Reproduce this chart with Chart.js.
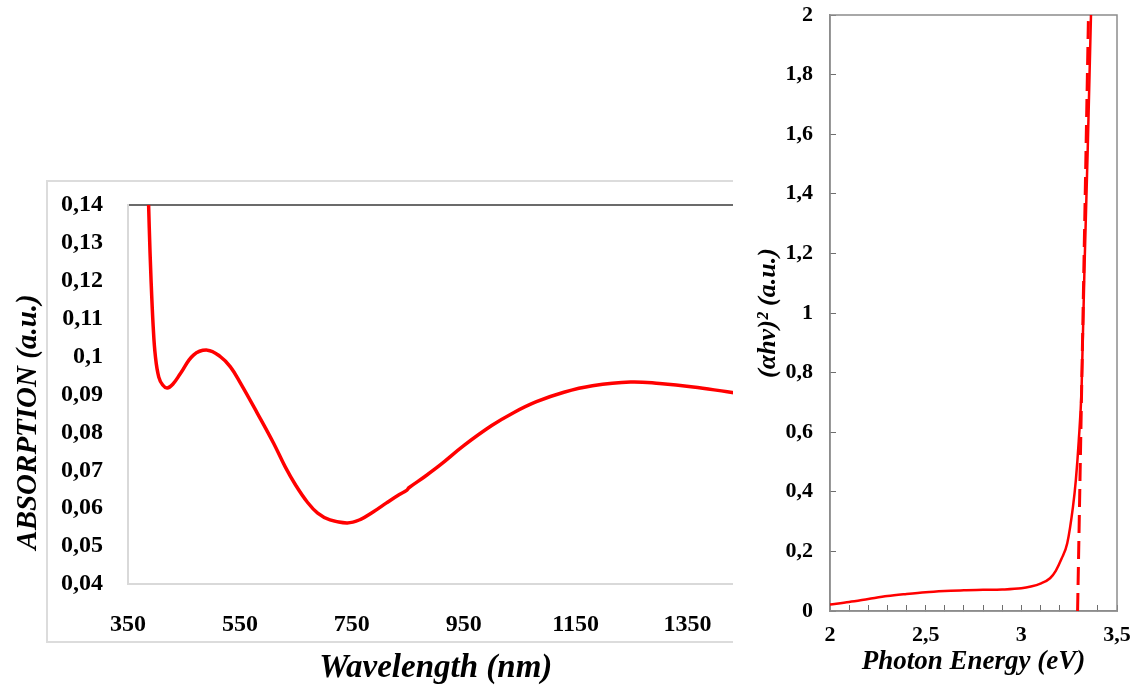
<!DOCTYPE html>
<html>
<head>
<meta charset="utf-8">
<script src="https://cdn.jsdelivr.net/npm/chart.js@4.4.0/dist/chart.umd.min.js"></script>
<style>
  body { margin: 0; background: #fff; }
  #wrap { position: relative; width: 1137px; height: 693px; overflow: hidden; }
  #absChart { position: absolute; left: 0; top: 0; }
  #taucChart { position: absolute; left: 733px; top: 0; background: #fff; }
</style>
</head>
<body>
<div id="wrap">
  <canvas id="absChart" width="800" height="693"></canvas>
  <canvas id="taucChart" width="404" height="693"></canvas>
</div>
<script>
// left panel: absorption spectrum
const wavelength = [385, 388, 391, 395, 399, 405, 412, 420, 430, 444, 467, 492, 515, 533, 551, 581, 610, 631, 650, 670, 689, 711, 742, 765, 788, 812, 835, 848, 852, 880, 908, 950, 1000, 1039, 1080, 1129, 1180, 1248, 1300, 1360, 1421, 1450]
const absorption = [0.150, 0.134, 0.121, 0.108, 0.1000, 0.0946, 0.0925, 0.0917, 0.0927, 0.0956, 0.1004, 0.1017, 0.1000, 0.0973, 0.0930, 0.0851, 0.0772, 0.0709, 0.0660, 0.0617, 0.0587, 0.0569, 0.0561, 0.0570, 0.0590, 0.0614, 0.0636, 0.0647, 0.0654, 0.0683, 0.0714, 0.0765, 0.0818, 0.0852, 0.0881, 0.0906, 0.0923, 0.0933, 0.0929, 0.0920, 0.0907, 0.0901]
const absXTicks = [350, 550, 750, 950, 1150, 1350]
const absYTicks = [0.04, 0.05, 0.06, 0.07, 0.08, 0.09, 0.1, 0.11, 0.12, 0.13, 0.14]

// right panel: Tauc plot
const energy = [2.0, 2.1, 2.2, 2.3, 2.4, 2.5, 2.6, 2.7, 2.8, 2.9, 3.0, 3.05, 3.1, 3.15, 3.18, 3.21, 3.24, 3.27, 3.285, 3.30, 3.315, 3.33, 3.347, 3.364, 3.37]
const tauc = [0.022, 0.030, 0.040, 0.050, 0.057, 0.063, 0.067, 0.070, 0.071, 0.072, 0.076, 0.082, 0.092, 0.110, 0.135, 0.175, 0.227, 0.350, 0.440, 0.570, 0.750, 1.150, 1.550, 2.000, 2.150]
const tangentE = [3.294, 3.351]
const tangentY = [0, 2]
const taucXTicks = [2, 2.1, 2.2, 2.3, 2.4, 2.5, 2.6, 2.7, 2.8, 2.9, 3, 3.1, 3.2, 3.3, 3.4, 3.5]
const taucXLabels = [2, 2.5, 3, 3.5]
const taucYTicks = [0, 0.2, 0.4, 0.6, 0.8, 1, 1.2, 1.4, 1.6, 1.8, 2]

const serif = "'Liberation Serif', 'Times New Roman', serif"
const comma = v => String(v).replace('.', ',')

// keep the plot areas where they sit in the figure
const noEdgePadding = (axis) => {
  axis.paddingLeft = 0
  axis.paddingRight = 0
  axis.paddingTop = 0
  axis.paddingBottom = 0
}

const absFrame = {
  id: 'absFrame',
  beforeDraw: (chart) => {
    const c = chart.ctx
    c.save()
    c.fillStyle = '#fff'
    c.fillRect(0, 0, chart.width, chart.height)
    c.strokeStyle = '#dcdcdc'
    c.lineWidth = 2
    c.strokeRect(47, 181, 780, 461)
    c.restore()
  },
  afterDraw: (chart) => {
    const c = chart.ctx
    c.save()
    c.translate(29, 422)
    c.rotate(-Math.PI / 2)
    c.font = "italic bold 29px " + serif
    c.fillStyle = '#000'
    c.textAlign = 'center'
    c.textBaseline = 'middle'
    c.fillText('ABSORPTION (a.u.)', 0, 0)
    c.restore()
  }
}

new Chart(document.getElementById('absChart'), {
  type: 'line',
  data: {
    datasets: [{
      data: wavelength.map((x, i) => ({ x, y: absorption[i] })),
      borderColor: '#ff0000',
      borderWidth: 3.5,
      pointRadius: 0,
      tension: 0.4
    }]
  },
  options: {
    responsive: false,
    animation: false,
    layout: { padding: { top: 205, right: 56.5, left: 0, bottom: 0 } },
    plugins: { legend: { display: false }, tooltip: { enabled: false } },
    scales: {
      x: {
        type: 'linear',
        min: 350,
        max: 1450,
        afterBuildTicks: (axis) => { axis.ticks = absXTicks.map(v => ({ value: v })) },
        afterFit: (axis) => { axis.height = 109; noEdgePadding(axis) },
        grid: { display: false },
        border: { display: true, color: '#d9d9d9', width: 2 },
        ticks: {
          autoSkip: false, maxRotation: 0, padding: 18, color: '#000',
          font: { family: serif, size: 24, weight: 'bold' },
          callback: (v) => comma(v)
        },
        title: {
          display: true,
          text: 'Wavelength (nm)',
          color: '#000',
          font: { family: serif, size: 33, weight: 'bold', style: 'italic' },
          padding: { top: 0, bottom: 5 }
        }
      },
      y: {
        min: 0.04,
        max: 0.14,
        afterBuildTicks: (axis) => { axis.ticks = absYTicks.map(v => ({ value: v })) },
        afterFit: (axis) => { axis.width = 128; noEdgePadding(axis) },
        grid: {
          drawTicks: false,
          lineWidth: 2,
          color: (ctx) => ctx.tick && ctx.tick.value === 0.14 ? '#6b6b6b' : 'rgba(0,0,0,0)'
        },
        border: { display: true, color: '#d9d9d9', width: 2 },
        ticks: {
          autoSkip: false, padding: 25, color: '#000',
          font: { family: serif, size: 24, weight: 'bold' },
          callback: (v) => comma(v)
        }
      }
    }
  },
  plugins: [absFrame]
})

const taucFrame = {
  id: 'taucFrame',
  beforeDatasetsDraw: (chart) => {
    const a = chart.chartArea
    const c = chart.ctx
    c.save()
    c.strokeStyle = '#8c8c8c'
    c.lineWidth = 1.5
    c.strokeRect(a.left, a.top, a.right - a.left, a.bottom - a.top)
    c.restore()
  }
}

new Chart(document.getElementById('taucChart'), {
  type: 'line',
  data: {
    datasets: [{
      data: energy.map((x, i) => ({ x, y: tauc[i] })),
      borderColor: '#ff0000',
      borderWidth: 2.5,
      pointRadius: 0,
      cubicInterpolationMode: 'monotone'
    }, {
      data: tangentE.map((x, i) => ({ x, y: tangentY[i] })),
      borderColor: '#ff0000',
      borderWidth: 3,
      borderDash: [18, 8],
      pointRadius: 0
    }]
  },
  options: {
    responsive: false,
    animation: false,
    layout: { padding: { top: 15, right: 20, left: 0, bottom: 0 } },
    plugins: { legend: { display: false }, tooltip: { enabled: false } },
    scales: {
      x: {
        type: 'linear',
        min: 2,
        max: 3.5,
        afterBuildTicks: (axis) => { axis.ticks = taucXTicks.map(v => ({ value: v })) },
        afterFit: (axis) => { axis.height = 82; noEdgePadding(axis) },
        grid: { drawOnChartArea: false, drawTicks: true, tickLength: -6, color: '#6e6e6e' },
        border: { display: true, color: '#8c8c8c', width: 1.5 },
        ticks: {
          autoSkip: false, maxRotation: 0, padding: 17, color: '#000',
          font: { family: serif, size: 22, weight: 'bold' },
          callback: (v) => taucXLabels.includes(v) ? comma(v) : ''
        },
        title: {
          display: true,
          text: 'Photon Energy (eV)',
          color: '#000',
          font: { family: serif, size: 27, weight: 'bold', style: 'italic' },
          padding: { top: 0, bottom: 15 }
        }
      },
      y: {
        min: 0,
        max: 2,
        afterBuildTicks: (axis) => { axis.ticks = taucYTicks.map(v => ({ value: v })) },
        afterFit: (axis) => { axis.width = 97; noEdgePadding(axis) },
        grid: { drawOnChartArea: false, drawTicks: true, tickLength: -6, color: '#6e6e6e' },
        border: { display: true, color: '#8c8c8c', width: 1.5 },
        ticks: {
          autoSkip: false, padding: 23, color: '#000',
          font: { family: serif, size: 22, weight: 'bold' },
          callback: (v) => comma(v)
        },
        title: {
          display: true,
          text: '(αhν)² (a.u.)',
          color: '#000',
          font: { family: serif, size: 26, weight: 'bold', style: 'italic' },
          padding: { top: 20, bottom: 0 }
        }
      }
    }
  },
  plugins: [taucFrame]
})
</script>
</body>
</html>
